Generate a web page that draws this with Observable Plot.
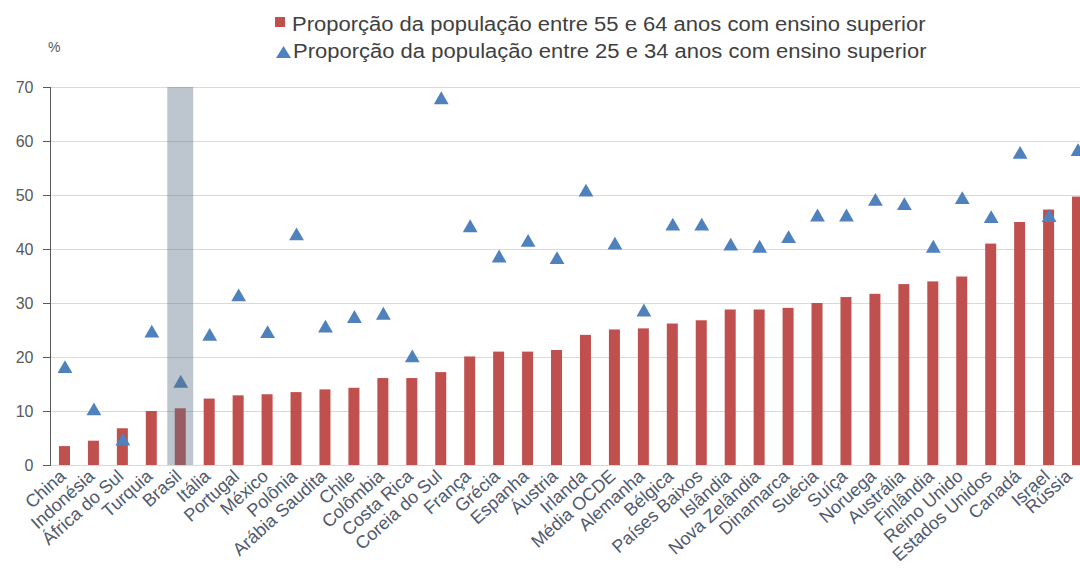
<!DOCTYPE html>
<html>
<head>
<meta charset="utf-8">
<script src="https://cdn.jsdelivr.net/npm/d3@7"></script>
<script src="https://cdn.jsdelivr.net/npm/@observablehq/plot@0.6"></script>
<style>
  html, body { margin: 0; padding: 0; background: #fff; }
  body { width: 1080px; height: 579px; overflow: hidden; font-family: Arial, "Liberation Sans", sans-serif; }
  #head { position: relative; width: 1080px; height: 75px; }
  .leg { position: absolute; font-size: 20px; line-height: 20px; color: #404040; white-space: nowrap; transform: scaleX(1.1); transform-origin: left center; }
  #pct { position: absolute; left: 48px; top: 40px; font-size: 14px; line-height: 14px; color: #595959; }
  #chart { width: 1092px; }
</style>
</head>
<body>
<div id="head">
  <div id="sq" style="position:absolute;left:275px;top:17px;width:10px;height:10px;background:#c0504d"></div>
  <div class="leg" id="leg1" style="left:292px;top:14px"></div>
  <svg style="position:absolute;left:276px;top:46px" width="15" height="12"><polygon points="7.5,0 15,12 0,12" fill="#4f81bd"/></svg>
  <div class="leg" id="leg2" style="left:293px;top:41px"></div>
  <div id="pct">%</div>
</div>
<div id="chart"></div>
<script>
const countries = ["China","Indonésia","África do Sul","Turquia","Brasil","Itália","Portugal","México","Polônia","Arábia Saudita","Chile","Colômbia","Costa Rica","Coreia do Sul","França","Grécia","Espanha","Áustria","Irlanda","Média OCDE","Alemanha","Bélgica","Países Baixos","Islândia","Nova Zelândia","Dinamarca","Suécia","Suíça","Noruega","Austrália","Finlândia","Reino Unido","Estados Unidos","Canadá","Israel","Rússia"];
const older55to64 = [3.5,4.5,6.8,10.0,10.5,12.3,12.9,13.1,13.5,14.0,14.3,16.1,16.1,17.2,20.1,21.0,21.0,21.3,24.1,25.1,25.3,26.2,26.8,28.8,28.8,29.1,30.0,31.1,31.7,33.5,34.0,34.9,41.0,45.0,47.3,49.7];
const younger25to34 = [17.9,10.1,4.5,24.5,15.2,23.9,31.2,24.4,42.5,25.4,27.2,27.8,19.9,67.7,44.0,38.4,41.3,38.1,50.6,40.8,28.4,44.3,44.3,40.6,40.2,42.0,46.0,46.0,48.9,48.1,40.2,49.2,45.7,57.6,45.9,58.1];
const highlighted = ["Brasil"];
const yTicks = [0,10,20,30,40,50,60,70];
const legendLabels = ["Proporção da população entre 55 e 64 anos com ensino superior","Proporção da população entre 25 e 34 anos com ensino superior"];

document.getElementById("leg1").textContent = legendLabels[0];
document.getElementById("leg2").textContent = legendLabels[1];

const data = countries.map((c, i) => ({country: c, older: older55to64[i], younger: younger25to34[i]}));
const xLabelStyle = {tickSize: 0, tickRotate: -42, tickPadding: 8, fontSize: 18, fill: "#505a6e", label: null};

const plot = Plot.plot({
  width: 1092,
  height: 504,
  marginTop: 12,
  marginBottom: 114,
  marginLeft: 50,
  marginRight: 0,
  style: {fontFamily: "Arial, 'Liberation Sans', sans-serif", fontSize: "16px", color: "#595959", background: "transparent", maxWidth: "none"},
  x: {domain: countries, paddingInner: 0.62, paddingOuter: 0.31, label: null},
  y: {domain: [0, 70], label: null},
  marks: [
    Plot.gridY(yTicks, {stroke: "#d9d9d9", strokeOpacity: 1}),
    Plot.barY(data, {x: "country", y: "older", fill: "#c0504d"}),
    Plot.dot(data, {x: "country", y: "younger", symbol: "triangle", r: 5.5, fill: "#4f81bd", stroke: "none"}),
    Plot.barY(highlighted, {x: d => d, y1: 0, y2: 70, fill: "#5a7184", fillOpacity: 0.4, insetLeft: -7.5, insetRight: -7.5}),
    Plot.axisY(yTicks, {tickSize: 7, tickPadding: 10, stroke: "#595959", fill: "#595959", label: null}),
    Plot.axisX(countries.slice(0, -1), {...xLabelStyle, dx: -2}),
    Plot.axisX(countries.slice(-1), {...xLabelStyle, dx: -9}),
    Plot.frame({anchor: "left", stroke: "#595959"})
  ]
});
document.getElementById("chart").appendChild(plot);
</script>
</body>
</html>
